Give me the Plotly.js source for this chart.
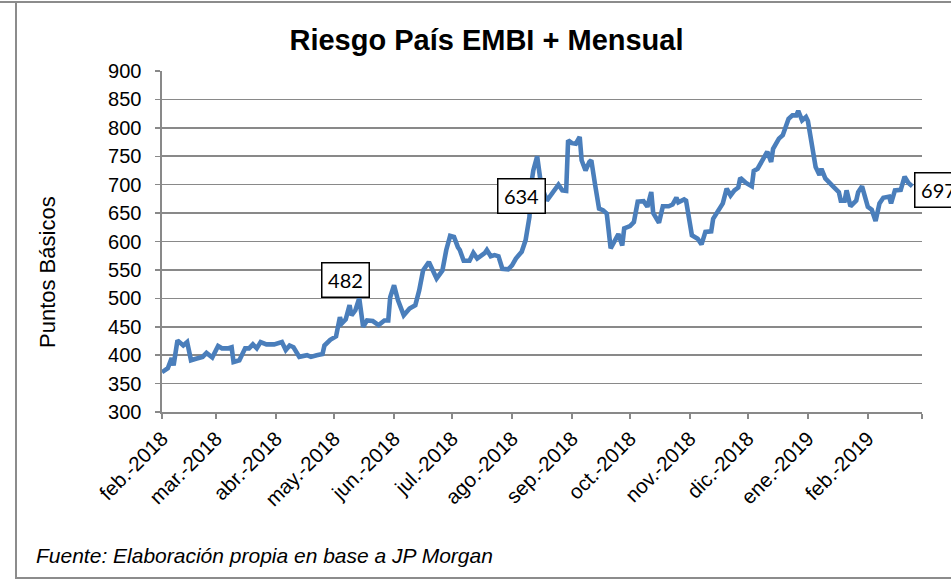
<!DOCTYPE html>
<html>
<head>
<meta charset="utf-8">
<script src="https://cdn.plot.ly/plotly-3.0.1.min.js"></script>
<style>
html,body{margin:0;padding:0;background:#fff;}
#chart{position:absolute;left:0;top:0;width:951px;height:580px;}
.frame{position:absolute;background:#8c8c8c;z-index:5;}
</style>
</head>
<body>
<div id="chart"></div>
<div class="frame" style="left:0;top:1px;width:951px;height:2px;"></div>
<div class="frame" style="left:15px;top:1px;width:2px;height:578px;"></div>
<div class="frame" style="left:15px;top:577px;width:936px;height:2px;"></div>
<script>
// ---- data ----
const dates = [
'2018-02-01','2018-02-04','2018-02-06','2018-02-07','2018-02-09','2018-02-12','2018-02-14','2018-02-16','2018-02-19','2018-02-22','2018-02-24','2018-02-27',
'2018-03-02','2018-03-04','2018-03-07','2018-03-09','2018-03-10','2018-03-13','2018-03-16','2018-03-18','2018-03-20','2018-03-22','2018-03-24','2018-03-27','2018-03-31',
'2018-04-04','2018-04-06','2018-04-08','2018-04-10','2018-04-13','2018-04-17','2018-04-19','2018-04-22','2018-04-25','2018-04-26','2018-04-29',
'2018-05-02','2018-05-04','2018-05-05','2018-05-07','2018-05-09','2018-05-10','2018-05-12','2018-05-14','2018-05-16','2018-05-18','2018-05-21','2018-05-24','2018-05-27','2018-05-29','2018-05-30',
'2018-06-01','2018-06-03','2018-06-06','2018-06-09','2018-06-12','2018-06-14','2018-06-16','2018-06-19','2018-06-23','2018-06-26','2018-06-28','2018-06-30',
'2018-07-02','2018-07-04','2018-07-05','2018-07-07','2018-07-10','2018-07-12','2018-07-14','2018-07-18','2018-07-19','2018-07-21','2018-07-23','2018-07-25','2018-07-27','2018-07-30',
'2018-08-01','2018-08-03','2018-08-06','2018-08-08','2018-08-10','2018-08-11','2018-08-12','2018-08-14','2018-08-16','2018-08-19','2018-08-22','2018-08-25','2018-08-27','2018-08-29','2018-08-30',
'2018-09-01','2018-09-03','2018-09-05','2018-09-06','2018-09-08','2018-09-10','2018-09-11','2018-09-13','2018-09-15','2018-09-17','2018-09-19','2018-09-21','2018-09-23','2018-09-25','2018-09-27','2018-09-28',
'2018-10-01','2018-10-03','2018-10-05','2018-10-08','2018-10-10','2018-10-12','2018-10-13','2018-10-16','2018-10-18','2018-10-21','2018-10-23','2018-10-25','2018-10-26','2018-10-29','2018-10-30','2018-10-31',
'2018-11-02','2018-11-05','2018-11-07','2018-11-09','2018-11-12','2018-11-13','2018-11-16','2018-11-18','2018-11-20','2018-11-22','2018-11-24','2018-11-26','2018-11-27','2018-11-30',
'2018-12-03','2018-12-04','2018-12-06','2018-12-09','2018-12-11','2018-12-13','2018-12-14','2018-12-17','2018-12-19','2018-12-22','2018-12-24','2018-12-26','2018-12-27','2018-12-29','2018-12-31',
'2019-01-01','2019-01-03','2019-01-05','2019-01-07','2019-01-08','2019-01-10','2019-01-12','2019-01-14','2019-01-17','2019-01-18','2019-01-20','2019-01-21','2019-01-23','2019-01-26','2019-01-27','2019-01-29',
'2019-02-01','2019-02-03','2019-02-05','2019-02-07','2019-02-09','2019-02-12','2019-02-13','2019-02-15','2019-02-18','2019-02-20','2019-02-22','2019-02-24'
];
const embi = [
370,377,395,382,426,417,423,391,394,397,404,396,
416,412,412,414,388,391,412,412,419,412,423,419,419,
423,409,417,414,397,400,397,400,402,417,427,
433,467,456,463,488,470,479,500,450,461,460,453,461,461,502,
523,497,470,482,488,514,549,564,535,549,585,610,
608,590,585,566,566,580,570,580,585,574,576,574,552,551,
558,570,582,602,643,702,725,750,700,672,687,700,690,689,778,
773,772,784,743,725,740,743,699,658,655,649,588,602,613,593,623,
627,634,670,671,661,687,650,633,662,662,665,677,669,674,672,655,
611,605,595,617,618,640,658,667,693,681,690,695,712,703,
697,724,728,744,758,740,763,781,787,816,822,822,830,813,819,
812,772,731,717,728,711,703,697,687,672,672,690,662,672,687,697,
661,656,636,667,677,679,667,690,691,714,703,697
];
const monthTicks = ['2018-02-01','2018-03-01','2018-04-01','2018-05-01','2018-06-01','2018-07-01','2018-08-01','2018-09-01','2018-10-01','2018-11-01','2018-12-01','2019-01-01','2019-02-01','2019-03-01'];
const monthLabels = ['feb.-2018','mar.-2018','abr.-2018','may.-2018','jun.-2018','jul.-2018','ago.-2018','sep.-2018','oct.-2018','nov.-2018','dic.-2018','ene.-2019','feb.-2019',''];
// call-out labels: [date, value, text]
const calloutDates = ['2018-05-07','2018-08-06','2019-02-24'];
const calloutValues = [533,680,697];
const calloutTexts = ['482','634','697'];

const GRAY = '#898989';
const FONT = 'Liberation Sans, Arial, sans-serif';

const trace = {
  type:'scatter', mode:'lines', x:dates, y:embi,
  line:{color:'#4a7ebb', width:4.6, shape:'linear'},
  hoverinfo:'x+y'
};

const annotations = calloutTexts.map((t,i)=>{
  const last = i === calloutTexts.length-1;
  return {
    xref:'x', yref:'y', x:calloutDates[i], y:calloutValues[i],
    text:t, showarrow:false,
    xanchor: last ? 'left' : 'center', yanchor:'middle',
    xshift: last ? 2 : 0, yshift: last ? -3.5 : 0,
    bgcolor:'#fff', bordercolor:'#000', borderwidth:1.5, borderpad:2,
    width:42, height:29, align:'center',
    font:{family:'Lato, Open Sans, sans-serif', size:20, color:'#000'}
  };
});
annotations.push({
  xref:'paper', yref:'paper', x:(47-162)/760, y:(412-272)/341,
  xanchor:'center', yanchor:'middle', textangle:-90, showarrow:false,
  text:'Puntos Básicos', font:{family:FONT, size:22, color:'#000'}
});
annotations.push({
  xref:'paper', yref:'paper', x:(34-162)/760, y:(412-555)/341,
  xanchor:'left', yanchor:'middle', showarrow:false,
  text:'<i>Fuente: Elaboración propia en base a JP Morgan</i>',
  font:{family:FONT, size:21, color:'#000'}
});

const layout = {
  width:951, height:580,
  margin:{l:162, r:29, t:71, b:168},
  paper_bgcolor:'#fff', plot_bgcolor:'#fff',
  showlegend:false,
  title:{
    text:'<b>Riesgo País EMBI + Mensual</b>',
    font:{family:FONT, size:29, color:'#000'},
    xref:'container', x:486.5/951, xanchor:'center',
    yref:'container', y:1-39.5/580, yanchor:'middle'
  },
  xaxis:{
    type:'date', range:['2018-02-01','2019-03-01'],
    tickmode:'array', tickvals:monthTicks, ticktext:monthLabels,
    tickangle:-45, ticks:'outside', ticklen:5, tickwidth:1.5, tickcolor:GRAY,
    showline:true, linecolor:GRAY, linewidth:1.6,
    showgrid:false, zeroline:false,
    tickfont:{family:FONT, size:20.5, color:'#000'},
    automargin:false, fixedrange:true
  },
  yaxis:{
    range:[300,900], tickmode:'linear', tick0:300, dtick:50,
    ticks:'outside', ticklen:5, tickwidth:1.5, tickcolor:GRAY,
    showline:true, linecolor:GRAY, linewidth:1.6,
    showgrid:true, gridcolor:GRAY, gridwidth:1.6, zeroline:false,
    tickfont:{family:FONT, size:20, color:'#000'},
    ticklabelstandoff:10,
    automargin:false, fixedrange:true
  },
  annotations:annotations
};

Plotly.newPlot('chart', [trace], layout, {displayModeBar:false, staticPlot:true});
</script>
</body>
</html>
